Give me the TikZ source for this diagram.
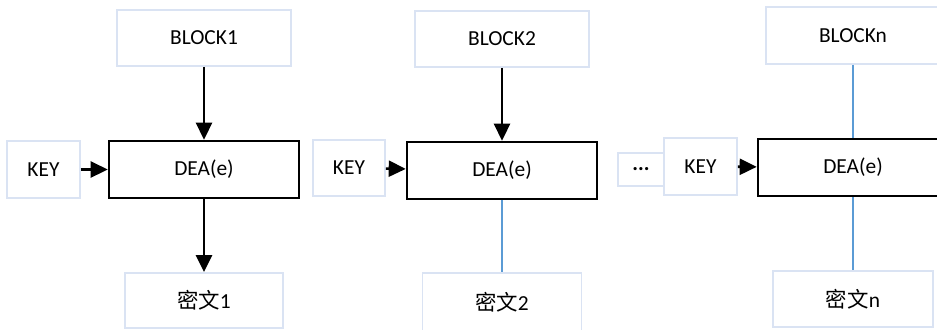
\documentclass[tikz,border=0pt]{standalone}
\usepackage{fontspec}
\setmainfont{Carlito}
\newfontfamily\cjk{Noto Sans CJK SC}
\usetikzlibrary{arrows.meta}
\definecolor{boxline}{HTML}{DAE3F3}
\definecolor{linkblue}{HTML}{5B9BD5}
\tikzset{
  lbox/.style={draw=boxline, line width=1.8bp, fill=white, inner sep=0pt,
    font=\fontsize{21.5}{24}\selectfont},
  deabox/.style={draw=black, line width=2.6bp, fill=white, inner sep=0pt,
    minimum width=190bp, minimum height=57bp, font=\fontsize{21.5}{24}\selectfont},
  flow/.style={line width=2.6bp, -{Triangle[length=17bp,width=16bp]}},
  plain/.style={draw=linkblue, line width=2.2bp},
}
\begin{document}
\begin{tikzpicture}[x=1bp, y=-1bp]
\useasboundingbox (0,0) rectangle (937,329);
\clip (0,0) rectangle (937,329);

% first stage
\node[lbox, minimum width=174bp, minimum height=56bp] (b1) at (204,38) {BLOCK1};
\node[deabox] (d1) at (204,169.5) {DEA(e)};
\node[lbox, minimum width=73bp, minimum height=57bp] (k1) at (43.5,169.5) {KEY};
\node[lbox, minimum width=158bp, minimum height=55bp] (c1) at (204,300.5) {\cjk 密文\rmfamily 1};
\draw[flow] (b1) -- (d1);
\draw[flow] (k1) -- (d1);
\draw[flow] (d1) -- (c1);

% second stage
\node[lbox, minimum width=174bp, minimum height=56bp] (b2) at (502,39) {BLOCK2};
\node[deabox] (d2) at (502,170.5) {DEA(e)};
\node[lbox, minimum width=72bp, minimum height=56bp] (k2) at (349,168) {KEY};
\node[lbox, minimum width=159bp, minimum height=58bp] (c2) at (502,302) {\cjk 密文\rmfamily 2};
\draw[flow] (b2) -- (d2);
\draw[flow] (k2) -- (d2);
\draw[plain] (d2) -- (c2);

% last stage
\node[lbox, minimum width=46bp, minimum height=33bp, font=\fontsize{21.5}{24}\selectfont\bfseries] (dots) at (641,169.5) {...};
\node[lbox, minimum width=174bp, minimum height=57bp] (bn) at (853,35.5) {BLOCKn};
\node[deabox] (dn) at (853,167.5) {DEA(e)};
\node[lbox, minimum width=73bp, minimum height=57bp] (kn) at (700.5,166.5) {KEY};
\node[lbox, minimum width=160bp, minimum height=56bp] (cn) at (853,299) {\cjk 密文\rmfamily n};
\draw[plain] (bn) -- (dn);
\draw[flow] (kn) -- (dn);
\draw[plain] (dn) -- (cn);
\end{tikzpicture}
\end{document}
